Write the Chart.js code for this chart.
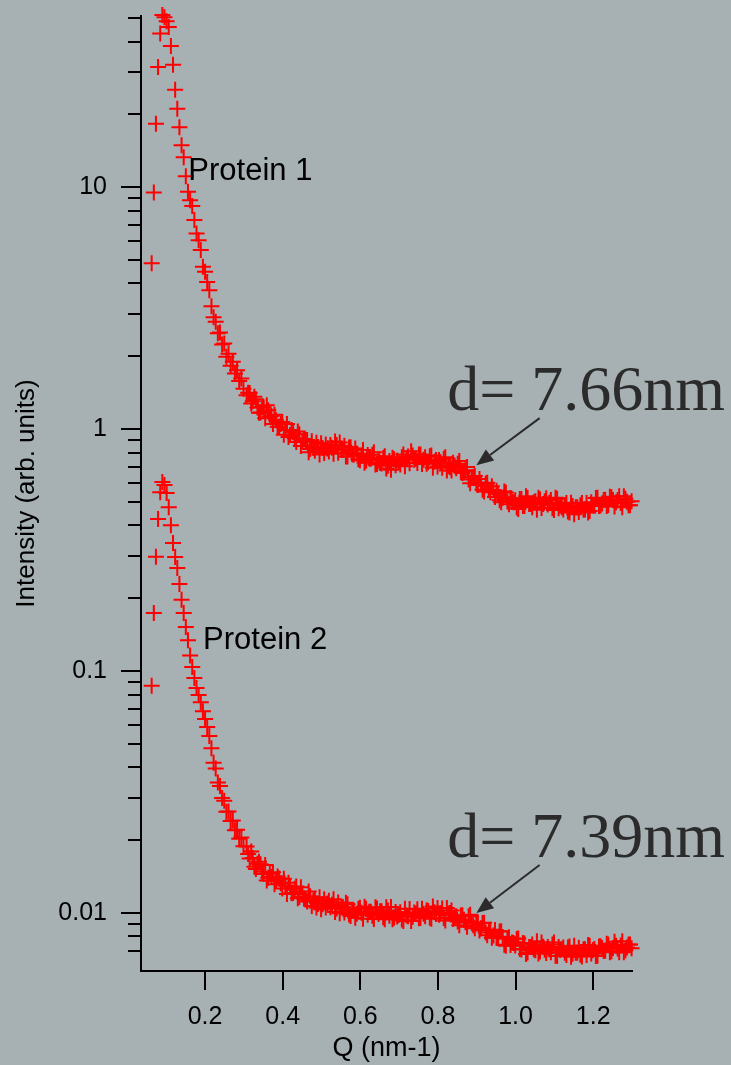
<!DOCTYPE html>
<html>
<head>
<meta charset="utf-8">
<title>SAXS intensity</title>
<script src="https://cdn.jsdelivr.net/npm/chart.js@4.4.1/dist/chart.umd.min.js"></script>
<style>
  html, body { margin: 0; padding: 0; background: #a7b1b4; }
  canvas { display: block; }
</style>
</head>
<body>
<canvas id="saxs" width="731" height="1065"></canvas>
<script>
// Q values (nm-1), shared by both curves
const q = [
  0.0625, 0.068, 0.0735, 0.079, 0.0845, 0.09, 0.0955, 0.101, 0.1065, 0.112,
  0.1175, 0.123, 0.1285, 0.134, 0.1395, 0.145, 0.1505, 0.156, 0.1615, 0.167,
  0.1725, 0.178, 0.1835, 0.189, 0.1945, 0.2, 0.2055, 0.211, 0.2165, 0.222,
  0.2275, 0.233, 0.2385, 0.244, 0.2495, 0.255, 0.2605, 0.266, 0.2715, 0.277,
  0.2825, 0.288, 0.2935, 0.299,
  0.307, 0.315, 0.323, 0.331, 0.339, 0.347, 0.355, 0.363, 0.371, 0.379,
  0.387, 0.395, 0.403, 0.411, 0.419, 0.427, 0.435, 0.443, 0.451, 0.459,
  0.467, 0.475, 0.483, 0.491, 0.499, 0.507, 0.515, 0.523, 0.531, 0.539,
  0.547, 0.555, 0.563, 0.571, 0.579, 0.587, 0.595, 0.603, 0.611, 0.619,
  0.627, 0.635, 0.643, 0.651, 0.659, 0.667, 0.675, 0.683, 0.691, 0.699,
  0.707, 0.715, 0.723, 0.731, 0.739, 0.747, 0.755, 0.763, 0.771, 0.779,
  0.787, 0.795, 0.803, 0.811, 0.819, 0.827, 0.835, 0.843, 0.851, 0.859,
  0.867, 0.875, 0.883, 0.891, 0.899, 0.907, 0.915, 0.923, 0.931, 0.939,
  0.947, 0.955, 0.963, 0.971, 0.979, 0.987, 0.995, 1.003, 1.011, 1.019,
  1.027, 1.035, 1.043, 1.051, 1.059, 1.067, 1.075, 1.083, 1.091, 1.099,
  1.107, 1.115, 1.123, 1.131, 1.139, 1.147, 1.155, 1.163, 1.171, 1.179,
  1.187, 1.195, 1.203, 1.211, 1.219, 1.227, 1.235, 1.243, 1.251, 1.259,
  1.267, 1.275, 1.283, 1.291, 1.299
];

// Intensity (arb. units)
const protein1 = [
  4.85, 9.5, 18.3, 31.4, 43.2, 51.5, 50.4, 48.5, 45.9, 38.3,
  32.1, 25.3, 21.1, 17.7, 14.9, 13.3, 11.1, 9.57, 8.84, 8.37,
  7.31, 6.44, 6.04, 5.50, 4.69, 4.47, 4.06, 3.75, 3.22, 2.90,
  2.78, 2.49, 2.51, 2.24, 2.26, 1.99, 2.05, 1.83, 1.90, 1.70,
  1.75, 1.58, 1.62, 1.47,
  1.382, 1.409, 1.305, 1.330, 1.170, 1.233, 1.110, 1.198, 1.132, 1.148,
  1.024, 1.049, 0.949, 1.049, 0.945, 0.972, 0.884, 0.953, 0.892, 0.901,
  0.803, 0.892, 0.815, 0.843, 0.875, 0.796, 0.831, 0.859, 0.792, 0.859,
  0.880, 0.819, 0.770, 0.839, 0.788, 0.831, 0.751, 0.777, 0.727, 0.781,
  0.755, 0.803, 0.717, 0.724, 0.759, 0.687, 0.738, 0.762, 0.710, 0.731,
  0.766, 0.703, 0.770, 0.811, 0.748, 0.724, 0.785, 0.748, 0.720, 0.773,
  0.693, 0.745, 0.745, 0.693, 0.766, 0.703, 0.674, 0.707, 0.720, 0.667,
  0.671, 0.697, 0.598, 0.634, 0.598, 0.622, 0.562, 0.596, 0.560, 0.581,
  0.524, 0.541, 0.499, 0.552, 0.502, 0.519, 0.499, 0.474, 0.514, 0.481,
  0.528, 0.490, 0.476, 0.504, 0.521, 0.472, 0.504, 0.488, 0.509, 0.463,
  0.516, 0.483, 0.465, 0.495, 0.452, 0.481, 0.476, 0.454, 0.495, 0.465,
  0.452, 0.499, 0.483, 0.521, 0.483, 0.509, 0.481, 0.526, 0.509, 0.499,
  0.528, 0.476, 0.516, 0.485, 0.504
];

const protein2 = [
  0.0870, 0.174, 0.297, 0.425, 0.549, 0.604, 0.587, 0.544, 0.476, 0.401,
  0.338, 0.296, 0.267, 0.229, 0.197, 0.174, 0.152, 0.134, 0.116, 0.104,
  0.0936, 0.0851, 0.0796, 0.0744, 0.0683, 0.0634, 0.0587, 0.0539, 0.0480, 0.0418,
  0.0396, 0.0346, 0.0335, 0.0299, 0.0291, 0.0262, 0.0263, 0.0240, 0.0241, 0.0220,
  0.0221, 0.0203, 0.0205, 0.0189,
  0.01885, 0.0168, 0.0169, 0.0152, 0.0163, 0.0148, 0.0158, 0.0140, 0.0141, 0.01315,
  0.01415, 0.01327, 0.01387, 0.0120, 0.01288, 0.0121, 0.01287, 0.01164, 0.01196, 0.01137,
  0.01227, 0.01069, 0.01141, 0.01091, 0.01036, 0.01139, 0.01094, 0.01057, 0.01141, 0.01043,
  0.00998, 0.01059, 0.01102, 0.00985, 0.01025, 0.00956, 0.01042, 0.01003, 0.01062, 0.00984,
  0.01012, 0.00945, 0.01043, 0.01016, 0.0096, 0.01056, 0.00975, 0.00942, 0.01011, 0.00981,
  0.00941, 0.01041, 0.00969, 0.00928, 0.01004, 0.01036, 0.00953, 0.00994, 0.01028, 0.00956,
  0.01065, 0.0099, 0.00983, 0.01045, 0.00932, 0.00995, 0.01024, 0.00958, 0.00922, 0.00976,
  0.00939, 0.00878, 0.00983, 0.0089, 0.0091, 0.00847, 0.0091, 0.00831, 0.00851, 0.00791,
  0.0085, 0.00798, 0.00841, 0.00739, 0.00785, 0.00738, 0.00752, 0.00781, 0.0071, 0.00752,
  0.00677, 0.00724, 0.00742, 0.00701, 0.00681, 0.00755, 0.00705, 0.00723, 0.00688, 0.00755,
  0.00665, 0.00703, 0.0072, 0.0067, 0.00727, 0.00679, 0.00686, 0.00719, 0.00661, 0.00709,
  0.00738, 0.0068, 0.0071, 0.00666, 0.00729, 0.00697, 0.00747, 0.00688, 0.00717, 0.00732,
  0.00688, 0.00764, 0.00701, 0.00742, 0.00715
];

// second interleaved set of readings in the dense tail
const qB = [
  0.311, 0.319, 0.327, 0.335, 0.343, 0.351, 0.359, 0.367, 0.375, 0.383,
  0.391, 0.399, 0.407, 0.415, 0.423, 0.431, 0.439, 0.447, 0.455, 0.463,
  0.471, 0.479, 0.487, 0.495, 0.503, 0.511, 0.519, 0.527, 0.535, 0.543,
  0.551, 0.559, 0.567, 0.575, 0.583, 0.591, 0.599, 0.607, 0.615, 0.623,
  0.631, 0.639, 0.647, 0.655, 0.663, 0.671, 0.679, 0.687, 0.695, 0.703,
  0.711, 0.719, 0.727, 0.735, 0.743, 0.751, 0.759, 0.767, 0.775, 0.783,
  0.791, 0.799, 0.807, 0.815, 0.823, 0.831, 0.839, 0.847, 0.855, 0.863,
  0.871, 0.879, 0.887, 0.895, 0.903, 0.911, 0.919, 0.927, 0.935, 0.943,
  0.951, 0.959, 0.967, 0.975, 0.983, 0.991, 0.999, 1.007, 1.015, 1.023,
  1.031, 1.039, 1.047, 1.055, 1.063, 1.071, 1.079, 1.087, 1.095, 1.103,
  1.111, 1.119, 1.127, 1.135, 1.143, 1.151, 1.159, 1.167, 1.175, 1.183,
  1.191, 1.199, 1.207, 1.215, 1.223, 1.231, 1.239, 1.247, 1.255, 1.263,
  1.271, 1.279, 1.287, 1.295
];

const protein1B = [
  1.415, 1.275, 1.362, 1.229, 1.172, 1.232, 1.256, 1.127, 1.051, 1.089,
  1.022, 1.071, 0.993, 0.927, 0.991, 0.918, 0.977, 0.851, 0.910, 0.901,
  0.827, 0.837, 0.878, 0.785, 0.835, 0.863, 0.809, 0.837, 0.890, 0.798,
  0.821, 0.853, 0.770, 0.841, 0.783, 0.794, 0.743, 0.819, 0.740, 0.757,
  0.783, 0.714, 0.748, 0.721, 0.772, 0.705, 0.679, 0.750, 0.742, 0.714,
  0.785, 0.757, 0.722, 0.779, 0.754, 0.786, 0.717, 0.766, 0.729, 0.779,
  0.733, 0.700, 0.729, 0.754, 0.674, 0.695, 0.727, 0.690, 0.738, 0.658,
  0.677, 0.619, 0.631, 0.640, 0.587, 0.600, 0.552, 0.600, 0.549, 0.560,
  0.556, 0.508, 0.520, 0.547, 0.489, 0.502, 0.508, 0.468, 0.514, 0.481,
  0.519, 0.490, 0.499, 0.464, 0.513, 0.490, 0.518, 0.496, 0.471, 0.520,
  0.471, 0.476, 0.486, 0.457, 0.496, 0.445, 0.476, 0.485, 0.464, 0.495,
  0.459, 0.485, 0.519, 0.481, 0.493, 0.511, 0.486, 0.523, 0.479, 0.510,
  0.495, 0.528, 0.501, 0.485
];

const protein2B = [
  0.01754, 0.01794, 0.01553, 0.01598, 0.0159, 0.01449, 0.01364, 0.01453, 0.01476, 0.01357,
  0.0139, 0.01263, 0.01301, 0.01335, 0.01208, 0.01259, 0.0115, 0.01279, 0.01149, 0.01116,
  0.01172, 0.01126, 0.01055, 0.01163, 0.01086, 0.01055, 0.01123, 0.01083, 0.01011, 0.01106,
  0.01063, 0.01006, 0.01087, 0.00972, 0.01024, 0.00993, 0.01052, 0.00947, 0.01042, 0.01012,
  0.00974, 0.01056, 0.00991, 0.01016, 0.00942, 0.01024, 0.01059, 0.00957, 0.00968, 0.01008,
  0.00926, 0.00976, 0.01038, 0.00965, 0.00996, 0.00952, 0.01041, 0.00969, 0.0102, 0.00948,
  0.01007, 0.01049, 0.00999, 0.00954, 0.01049, 0.01, 0.00944, 0.00971, 0.00891, 0.0098,
  0.00917, 0.0097, 0.00913, 0.00866, 0.00912, 0.00866, 0.00912, 0.00809, 0.00852, 0.00808,
  0.00789, 0.00839, 0.00796, 0.00733, 0.00795, 0.00756, 0.00735, 0.00785, 0.00707, 0.00748,
  0.00687, 0.00723, 0.00708, 0.00764, 0.00694, 0.00726, 0.00684, 0.00708, 0.00741, 0.00666,
  0.00724, 0.00708, 0.00685, 0.00721, 0.0066, 0.00732, 0.00686, 0.00673, 0.00708, 0.0067,
  0.00732, 0.00701, 0.00665, 0.00727, 0.00717, 0.00698, 0.00742, 0.00695, 0.0076, 0.00713,
  0.00735, 0.00688, 0.00721, 0.00742
];

// axis ticks
const xTickValues = [0.2, 0.4, 0.6, 0.8, 1.0, 1.2];
const yLabelValues = [0.01, 0.1, 1, 10];
const yLabelText = ['0.01', '0.1', '1', '10'];
const yTickValues = [
  0.007, 0.008, 0.009,
  0.01, 0.02, 0.03, 0.04, 0.05, 0.06, 0.07, 0.08, 0.09,
  0.1, 0.2, 0.3, 0.4, 0.5, 0.6, 0.7, 0.8, 0.9,
  1, 2, 3, 4, 5, 6, 7, 8, 9,
  10, 20, 30, 40, 50
];

// annotations (data units)
const curveLabels = [
  { text: 'Protein 1', q: 0.157, y: 11.6 },
  { text: 'Protein 2', q: 0.195, y: 0.1333 }
];
const spacingLabels = [
  { text: 'd= 7.66nm', q: 0.824, y: 1.198, fromQ: 1.062, fromY: 1.110, toQ: 0.899, toY: 0.710 },
  { text: 'd= 7.39nm', q: 0.824, y: 0.01703, fromQ: 1.062, fromY: 0.01579, toQ: 0.899, toY: 0.0100 }
];

const BG = '#a7b1b4';
const SANS = '"Liberation Sans", Arial, sans-serif';

const background = {
  id: 'background',
  beforeDraw(chart) {
    const ctx = chart.ctx;
    ctx.save();
    ctx.fillStyle = BG;
    ctx.fillRect(0, 0, chart.width, chart.height);
    ctx.restore();
  }
};

// Igor style ticks on the log axis: long for decades, short in between
const logTicks = {
  id: 'logTicks',
  afterDraw(chart) {
    const { ctx, chartArea, scales } = chart;
    ctx.save();
    ctx.strokeStyle = '#000';
    ctx.lineWidth = 2;
    yTickValues.forEach(v => {
      const py = Math.round(scales.y.getPixelForValue(v));
      const len = yLabelValues.includes(v) ? 20 : 13;
      ctx.beginPath();
      ctx.moveTo(chartArea.left, py);
      ctx.lineTo(chartArea.left - len, py);
      ctx.stroke();
    });
    ctx.restore();
  }
};

function drawArrow(ctx, x1, y1, x2, y2) {
  const ang = Math.atan2(y2 - y1, x2 - x1);
  const head = 17, half = 7;
  const bx = x2 - head * Math.cos(ang);
  const by = y2 - head * Math.sin(ang);
  ctx.beginPath();
  ctx.moveTo(x1, y1);
  ctx.lineTo(bx, by);
  ctx.stroke();
  ctx.beginPath();
  ctx.moveTo(x2, y2);
  ctx.lineTo(bx + half * Math.sin(ang), by - half * Math.cos(ang));
  ctx.lineTo(bx - half * Math.sin(ang), by + half * Math.cos(ang));
  ctx.closePath();
  ctx.fill();
}

const annotations = {
  id: 'annotations',
  afterDatasetsDraw(chart) {
    const { ctx, scales: { x, y } } = chart;
    ctx.save();
    ctx.fillStyle = '#000';
    ctx.font = '31px ' + SANS;
    ctx.textAlign = 'left';
    ctx.textBaseline = 'middle';
    curveLabels.forEach(l => {
      ctx.fillText(l.text, x.getPixelForValue(l.q), y.getPixelForValue(l.y));
    });

    ctx.fillStyle = '#2b2b2b';
    ctx.strokeStyle = '#2b2b2b';
    ctx.lineWidth = 2;
    ctx.font = '64px "Liberation Serif", "Times New Roman", serif';
    ctx.textBaseline = 'alphabetic';
    spacingLabels.forEach(l => {
      ctx.fillText(l.text, x.getPixelForValue(l.q), y.getPixelForValue(l.y));
      drawArrow(ctx,
        x.getPixelForValue(l.fromQ), y.getPixelForValue(l.fromY),
        x.getPixelForValue(l.toQ), y.getPixelForValue(l.toY));
    });
    ctx.restore();
  }
};

function points(qs, values) {
  return qs.map((v, i) => ({ x: v, y: values[i] }));
}

const crossStyle = {
  pointStyle: 'cross',
  pointRadius: 8,
  pointBorderWidth: 2,
  pointBorderColor: '#ff0000',
  pointBackgroundColor: '#ff0000',
  borderColor: '#ff0000',
  showLine: false,
  clip: false
};

const ctx = document.getElementById('saxs').getContext('2d');
const chart = new Chart(ctx, {
  type: 'scatter',
  data: {
    datasets: [
      Object.assign({ label: 'Protein 1', data: points(q, protein1).concat(points(qB, protein1B)) }, crossStyle),
      Object.assign({ label: 'Protein 2', data: points(q, protein2).concat(points(qB, protein2B)) }, crossStyle)
    ]
  },
  options: {
    responsive: false,
    animation: false,
    devicePixelRatio: 1,
    layout: { padding: { top: 16, right: 99, left: 0, bottom: 0 } },
    plugins: {
      legend: { display: false },
      tooltip: { enabled: false }
    },
    scales: {
      x: {
        type: 'linear',
        min: 0.035,
        max: 1.30,
        afterBuildTicks: s => { s.ticks = xTickValues.map(v => ({ value: v })); },
        afterFit: s => { s.height = 94; s.paddingLeft = 0; s.paddingRight = 0; },
        ticks: {
          autoSkip: false,
          maxRotation: 0,
          padding: 12,
          color: '#000',
          font: { family: SANS, size: 25 },
          callback: v => v.toFixed(1)
        },
        grid: { drawOnChartArea: false, tickLength: 19, lineWidth: 2, color: '#000' },
        border: { display: true, color: '#000', width: 2 },
        title: {
          display: true,
          text: 'Q (nm-1)',
          color: '#000',
          font: { family: SANS, size: 27 },
          padding: { top: 0, bottom: 0 }
        }
      },
      y: {
        type: 'logarithmic',
        min: 0.00576,
        max: 51,
        afterBuildTicks: s => { s.ticks = yTickValues.map(v => ({ value: v })); },
        afterFit: s => { s.width = 141; s.paddingTop = 0; s.paddingBottom = 0; },
        ticks: {
          autoSkip: false,
          padding: 34,
          color: '#000',
          font: { family: SANS, size: 25 },
          callback: v => {
            const k = yLabelValues.indexOf(v);
            return k >= 0 ? yLabelText[k] : '';
          }
        },
        grid: { display: false, drawTicks: false },
        border: { display: true, color: '#000', width: 2 },
        title: {
          display: true,
          text: 'Intensity (arb. units)',
          color: '#000',
          font: { family: SANS, size: 26 },
          padding: { top: 11, bottom: 0 }
        }
      }
    }
  },
  plugins: [background, logTicks, annotations]
});
</script>
</body>
</html>
